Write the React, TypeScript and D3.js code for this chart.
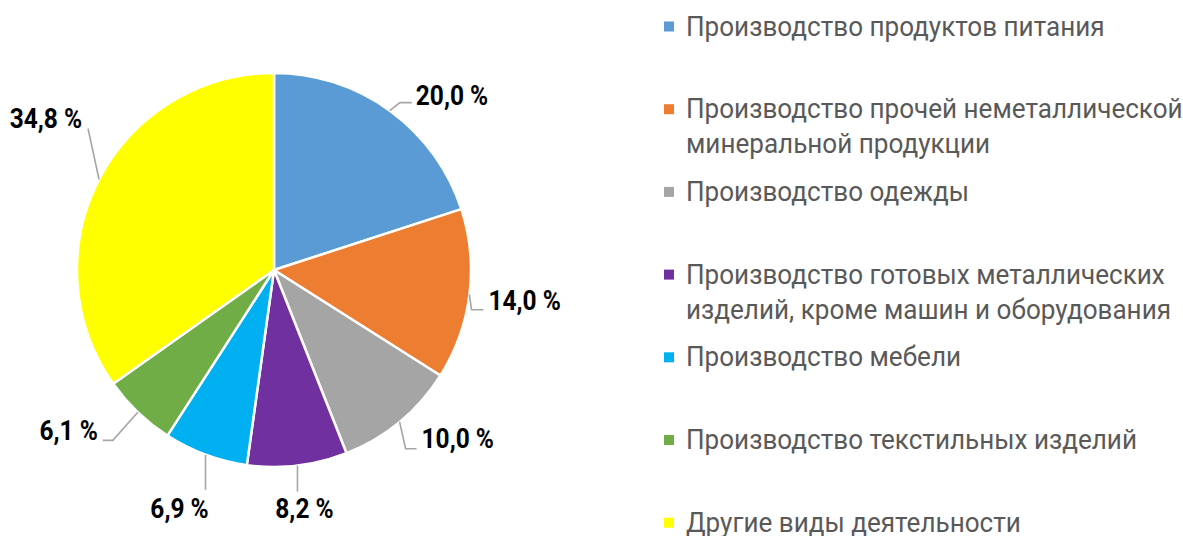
import React from "react";
import * as d3 from "d3";

// ---- data ----
const categories: string[] = [
  "Производство продуктов питания",
  "Производство прочей неметаллической минеральной продукции",
  "Производство одежды",
  "Производство готовых металлических изделий, кроме машин и оборудования",
  "Производство мебели",
  "Производство текстильных изделий",
  "Другие виды деятельности",
];
const values: number[] = [20.0, 14.0, 10.0, 8.2, 6.9, 6.1, 34.8];
const legendLines: string[][] = [
  ["Производство продуктов питания"],
  ["Производство прочей неметаллической", "минеральной продукции"],
  ["Производство одежды"],
  ["Производство готовых металлических", "изделий, кроме машин и оборудования"],
  ["Производство мебели"],
  ["Производство текстильных изделий"],
  ["Другие виды деятельности"],
];

// ---- styles / layout ----
const colors = ["#5B9BD5", "#ED7D31", "#A5A5A5", "#7030A0", "#00B0F0", "#70AD47", "#FFFF00"];
const W = 1183;
const H = 536;
const cx = 274;
const cy = 270;
const R = 197;
const FONT = "'Roboto', 'Liberation Sans', sans-serif";
const SX = 0.875;
const SX_LEGEND = 0.932;

// leader geometry per label: offset from edge point to elbow, horizontal tail, text offset from tail end
const labelLayout = [
  { dx: 10, dy: -8, tail: 12, tdx: 4, tdy: 2, anchor: "start" },
  { dx: 2, dy: 15, tail: 12, tdx: 5, tdy: 0, anchor: "start" },
  { dx: 6, dy: 27, tail: 11, tdx: 5, tdy: -1, anchor: "start" },
  { dx: 0, dy: 26, tail: 0, tdx: 7, tdy: 26, anchor: "middle" },
  { dx: 0, dy: 35, tail: 0, tdx: -26, tdy: 28, anchor: "middle" },
  { dx: -25, dy: 28, tail: -10, tdx: -5, tdy: 0, anchor: "end" },
  { dx: -11, dy: -51, tail: 0, tdx: -6, tdy: 0, anchor: "end" },
];

const fmt = (v: number) => v.toFixed(1).replace(".", ",") + " %";

export default function App() {
  const pie = d3.pie<number>().sort(null).value((d) => d)(values);
  const arc = d3.arc<d3.PieArcDatum<number>>().innerRadius(0).outerRadius(R);

  const legendX = 664;
  const legendTextX = 686;
  const legendY0 = 35.5;
  const legendStep = 82.7;
  const lineH = 35;

  return (
    <svg
      width={W}
      height={H}
      style={{ position: "absolute", left: 0, top: 0, background: "#fff" }}
      fontFamily={FONT}
    >
      <g transform={`translate(${cx},${cy})`}>
        {pie.map((p, i) => (
          <path key={i} d={arc(p) || ""} fill={colors[i]} stroke="#fff" strokeWidth={2.5} strokeLinejoin="round" />
        ))}
      </g>
      {pie.map((p, i) => {
        const mid = (p.startAngle + p.endAngle) / 2;
        const ex = cx + R * Math.sin(mid);
        const ey = cy - R * Math.cos(mid);
        const L = labelLayout[i];
        const bx = ex + L.dx;
        const by = ey + L.dy;
        const tx = bx + L.tail;
        const pts: [number, number][] = [
          [ex, ey],
          [bx, by],
          [tx, by],
        ];
        const line = d3.line()(pts) || "";
        const lx = tx + L.tdx;
        const ly = by + L.tdy;
        return (
          <g key={i}>
            <path d={line} fill="none" stroke="#A6A6A6" strokeWidth={1.6} />
            <text
              transform={`translate(${lx},${ly}) scale(${SX},1)`}
              textAnchor={L.anchor as any}
              fontSize={28}
              fontWeight={700}
              fill="#000"
            >
              {fmt(values[i])}
            </text>
          </g>
        );
      })}
      {categories.map((c, i) => {
        const by = legendY0 + i * legendStep;
        return (
          <g key={c}>
            <rect x={legendX} y={by - 14} width={10} height={10} fill={colors[i]} />
            {legendLines[i].map((ln, j) => (
              <text
                key={j}
                transform={`translate(${legendTextX},${by + j * lineH}) scale(${SX_LEGEND},1)`}
                fontSize={28}
                fill="#595959"
              >
                {ln}
              </text>
            ))}
          </g>
        );
      })}
    </svg>
  );
}
